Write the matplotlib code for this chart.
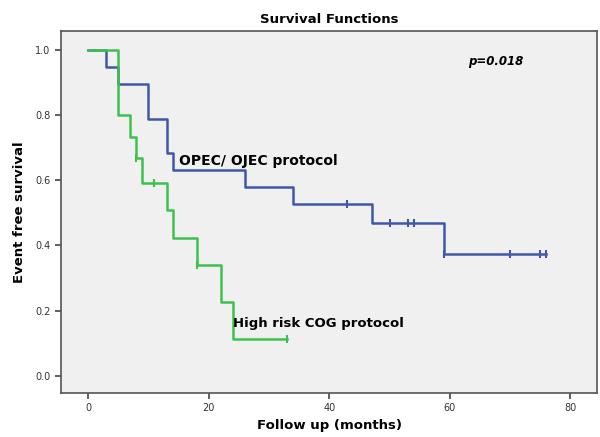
import numpy as np
import matplotlib
matplotlib.use('Agg')
import matplotlib.pyplot as plt

### DATA --------------------------------------------------------------------------
# OPEC/ OJEC protocol: step times and survival after each step
opec_t = [0, 3, 5, 10, 13, 14, 26, 34, 47, 59, 76]
opec_s = [1.0, 0.947, 0.895, 0.789, 0.684, 0.632, 0.579, 0.526, 0.468, 0.374, 0.374]
opec_cens_t = [43, 50, 53, 54, 59, 70, 75, 76]
opec_cens_s = [0.526, 0.468, 0.468, 0.468, 0.374, 0.374, 0.374, 0.374]

# High risk COG protocol
cog_t = [0, 5, 7, 8, 9, 13, 14, 18, 22, 24, 33]
cog_s = [1.0, 0.8, 0.733, 0.667, 0.593, 0.508, 0.424, 0.339, 0.226, 0.113, 0.113]
cog_cens_t = [8, 11, 18, 33]
cog_cens_s = [0.667, 0.593, 0.339, 0.113]

x_ticks = [0, 20, 40, 60, 80]
y_ticks = [0.0, 0.2, 0.4, 0.6, 0.8, 1.0]
###--------------------------------------------------------------------------------

blue = '#3F57AA'
green = '#3CC24C'

fig = plt.figure(figsize=(6.0, 4.37), dpi=100)
ax = fig.add_axes([0.1017, 0.1014, 0.8933, 0.8276])
ax.set_facecolor('#F0F0F0')

ax.step(opec_t, opec_s, where='post', color=blue, lw=1.8)
ax.step(cog_t, cog_s, where='post', color=green, lw=1.8)
ax.plot(opec_cens_t, opec_cens_s, ls='none', marker='|', ms=6, mew=1.5, color=blue)
ax.plot(cog_cens_t, cog_cens_s, ls='none', marker='|', ms=6, mew=1.5, color=green)

ax.set_xlim(-4.5, 84.4)
ax.set_ylim(-0.052, 1.058)
ax.set_xticks(x_ticks)
ax.set_yticks(y_ticks)
ax.set_yticklabels([f'{v:.1f}' for v in y_ticks])
ax.tick_params(direction='out', length=4, width=1.2, color='#444444',
               labelsize=7, labelcolor='#333333')
for sp in ax.spines.values():
    sp.set_color('#555555')
    sp.set_linewidth(1.2)

ax.set_title('Survival Functions', fontsize=9.5, fontweight='bold', pad=6)
ax.set_xlabel('Follow up (months)', fontsize=9.5, fontweight='bold', labelpad=4)
ax.set_ylabel('Event free survival', fontsize=9.5, fontweight='bold', labelpad=7)

ax.text(15, 0.66, 'OPEC/ OJEC protocol', fontsize=10, fontweight='bold', va='center')
ax.text(24, 0.16, 'High risk COG protocol', fontsize=9.5, fontweight='bold', va='center')
ax.text(63.0, 0.965, 'p=0.018', fontsize=8.5, fontweight='bold', style='italic', va='center')

fig.savefig('out.png', dpi=100)
plt.close()
